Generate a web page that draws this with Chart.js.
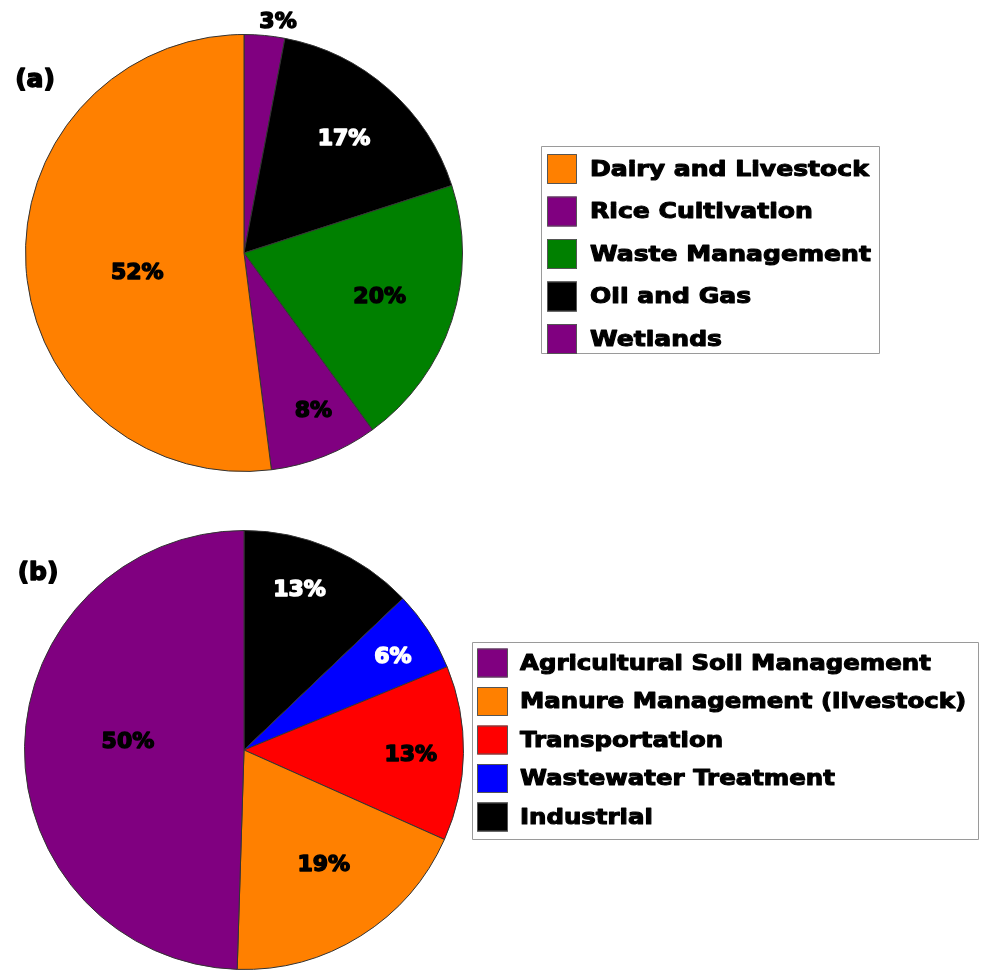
<!DOCTYPE html>
<html>
<head>
<meta charset="utf-8">
<script src="https://cdn.jsdelivr.net/npm/chart.js@4.4.1/dist/chart.umd.min.js"></script>
<style>
  body { margin: 0; background: #fff; }
  #wrap { position: relative; width: 987px; height: 972px; }
  canvas { position: absolute; left: 0; }
</style>
</head>
<body>
<div id="wrap">
  <canvas id="pieA" width="987" height="486" style="top:0"></canvas>
  <canvas id="pieB" width="987" height="486" style="top:486px"></canvas>
</div>
<script>
// (a) slices in clockwise order from 12 o'clock
var sourcesA = ["Wetlands", "Oil and Gas", "Waste Management", "Rice Cultivation", "Dairy and Livestock"];
var valuesA = [3, 17, 20, 8, 52];
var colorsA = ["#800080", "#000000", "#008000", "#800080", "#ff8000"];

// (b) slices in clockwise order from 12 o'clock
var sourcesB = ["Industrial", "Wastewater Treatment", "Transportation", "Manure Management (livestock)", "Agricultural Soil Management"];
var valuesB = [13, 6, 13, 19, 50];
var colorsB = ["#000000", "#0000ff", "#ff0000", "#ff8000", "#800080"];

var FONT = '"DejaVu Sans", Verdana, sans-serif';

// heavy text: fill plus a stroke in the same colour
function heavyText(ctx, s, x, y, color, weight) {
  ctx.fillStyle = color;
  ctx.strokeStyle = color;
  ctx.lineWidth = weight;
  ctx.lineJoin = 'round';
  ctx.strokeText(s, x, y);
  ctx.fillText(s, x, y);
}

// percent labels, panel tag and the boxed legend (listed in reverse slice order)
var pieDecor = {
  id: 'pieDecor',
  afterDraw: function (chart, args, o) {
    var ctx = chart.ctx;
    var ds = chart.data.datasets[0];
    var arcs = chart.getDatasetMeta(0).data;
    ctx.save();
    ctx.textAlign = 'center';
    ctx.textBaseline = 'middle';
    ctx.font = 'bold 22px ' + FONT;
    arcs.forEach(function (arc, i) {
      var p = arc.getProps(['x', 'y', 'startAngle', 'endAngle', 'outerRadius']);
      var mid = (p.startAngle + p.endAngle) / 2 + o.labelShift[i] * Math.PI / 180;
      var r = p.outerRadius * o.labelRadius[i];
      heavyText(ctx, ds.data[i] + '%', p.x + Math.cos(mid) * r, p.y + Math.sin(mid) * r, o.labelColor[i], 1.5);
    });

    ctx.font = 'bold 25px ' + FONT;
    heavyText(ctx, o.tag, o.tagX, o.tagY, '#000', 1.5);

    var L = o.legend;
    ctx.strokeStyle = '#9a9a9a';
    ctx.lineWidth = 1;
    ctx.strokeRect(L.x + 0.5, L.y + 0.5, L.w, L.h);
    ctx.textAlign = 'left';
    ctx.font = 'bold 22px ' + FONT;
    var labels = chart.data.labels;
    for (var k = 0; k < labels.length; k++) {
      var i = labels.length - 1 - k;
      var cy = L.firstRow + k * L.rowGap;
      ctx.fillStyle = ds.backgroundColor[i];
      ctx.fillRect(L.boxX, cy - L.boxH / 2, L.boxW, L.boxH);
      ctx.strokeStyle = '#555';
      ctx.lineWidth = 1;
      ctx.strokeRect(L.boxX + 0.5, cy - L.boxH / 2 + 0.5, L.boxW - 1, L.boxH - 1);
      ctx.save();
      ctx.translate(L.textX, cy + 1);
      ctx.scale(L.stretch, 1);
      heavyText(ctx, labels[i], 0, 0, '#000', 1.1);
      ctx.restore();
    }
    ctx.restore();
  }
};

function makePie(id, labels, values, colors, pad, decor) {
  return new Chart(document.getElementById(id), {
    type: 'pie',
    data: {
      labels: labels,
      datasets: [{
        data: values,
        backgroundColor: colors,
        borderColor: '#333',
        borderWidth: 1
      }]
    },
    options: {
      responsive: false,
      animation: false,
      devicePixelRatio: 1,
      layout: { padding: pad },
      plugins: {
        legend: { display: false },
        tooltip: { enabled: false },
        pieDecor: decor
      }
    },
    plugins: [pieDecor]
  });
}

makePie('pieA', sourcesA, valuesA, colorsA,
  { left: 25, top: 34, right: 524, bottom: 14 },
  {
    labelRadius: [1.066, 0.692, 0.653, 0.793, 0.497],
    labelShift: [3, 0, 0, -2, -7],
    labelColor: ['#000', '#fff', '#000', '#000', '#000'],
    tag: '(a)', tagX: 35, tagY: 80,
    legend: { x: 541, y: 146, w: 338, h: 207, boxX: 547, boxW: 30, boxH: 30,
              firstRow: 169, rowGap: 42.5, textX: 590, stretch: 1.14 }
  });

makePie('pieB', sourcesB, valuesB, colorsB,
  { left: 24, top: 44, right: 523, bottom: 2 },
  {
    labelRadius: [0.77, 0.80, 0.76, 0.64, 0.53],
    labelShift: [-4, 1, 1, -2.5, 3],
    labelColor: ['#fff', '#fff', '#000', '#000', '#000'],
    tag: '(b)', tagX: 38, tagY: 87,
    legend: { x: 472, y: 156, w: 506, h: 197, boxX: 477, boxW: 31, boxH: 29,
              firstRow: 177, rowGap: 38.5, textX: 520, stretch: 1.11 }
  });
</script>
</body>
</html>
